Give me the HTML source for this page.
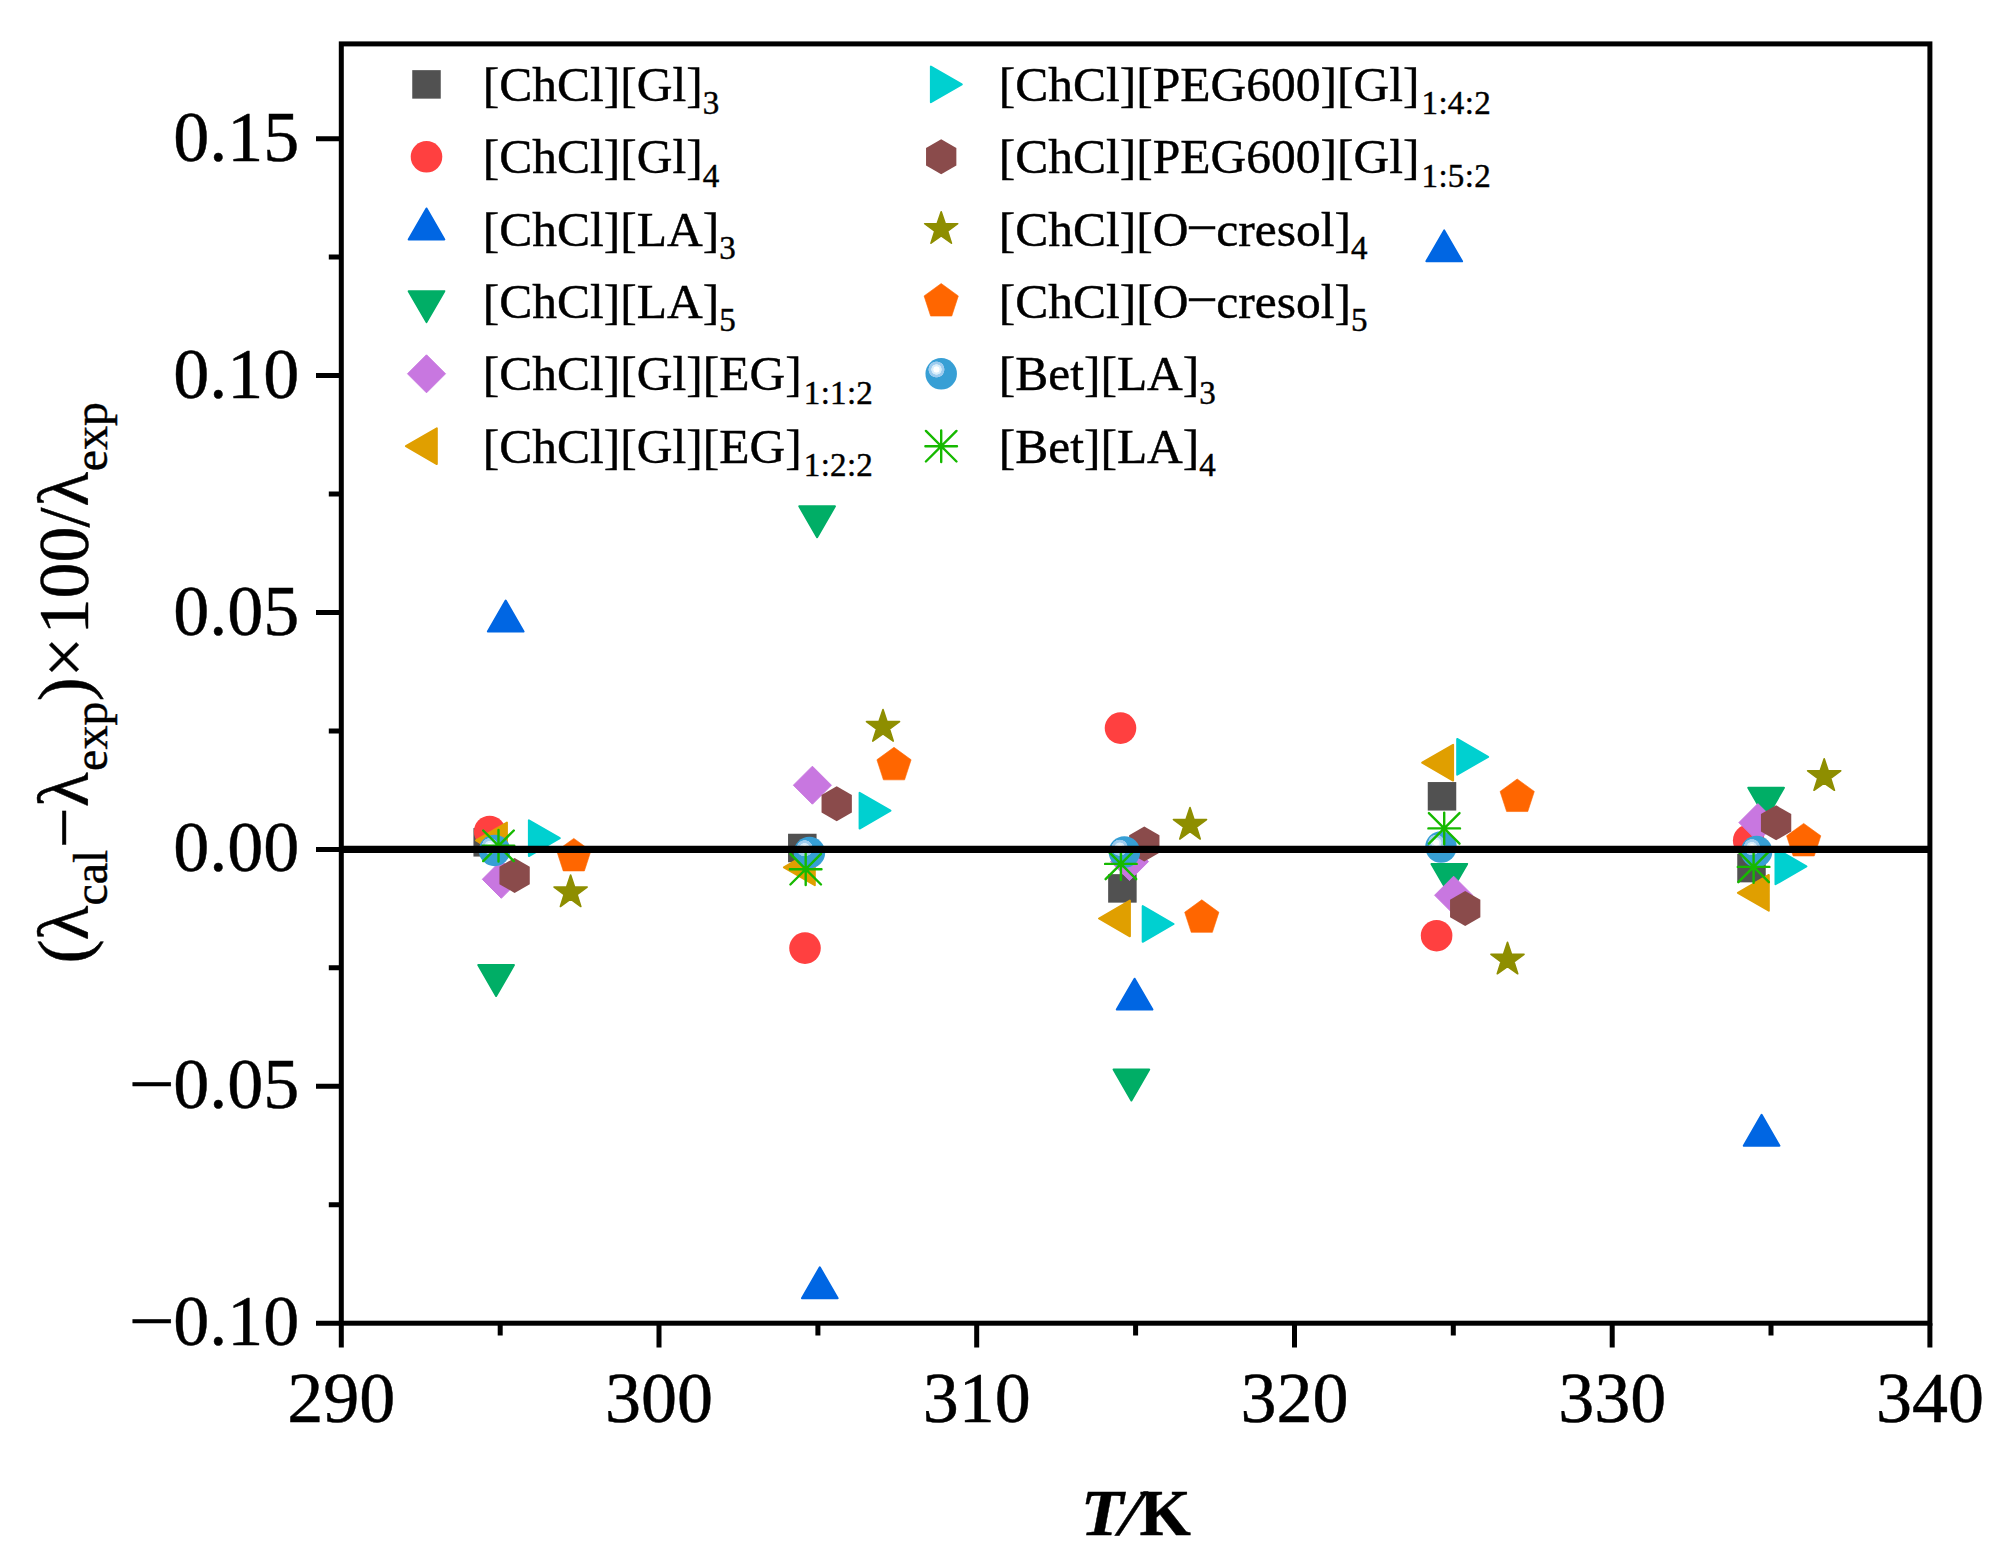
<!DOCTYPE html>
<html><head><meta charset="utf-8"><title>Deviation plot</title>
<style>html,body{margin:0;padding:0;background:#fff}svg{display:block}text{font-family:"Liberation Serif","Times New Roman",serif;fill:#000;stroke:#000;stroke-width:0.45px}</style></head><body>
<svg width="2010" height="1560" viewBox="0 0 2010 1560">
<defs>
<radialGradient id="sph" cx="0.35" cy="0.363" r="0.262" fx="0.35" fy="0.363">
<stop offset="0" stop-color="#ffffff"/><stop offset="0.34" stop-color="#ffffff"/>
<stop offset="0.40" stop-color="#DDF0FB"/><stop offset="0.60" stop-color="#D6ECFA"/>
<stop offset="0.66" stop-color="#A0CDEF"/><stop offset="0.95" stop-color="#9CCBEE"/>
<stop offset="1" stop-color="#379FD5"/>
</radialGradient>
<g id="sq"><rect x="-14.25" y="-14.25" width="28.5" height="28.5" fill="#515151"/></g>
<g id="ci"><circle r="15.8" fill="#FF4040"/></g>
<g id="ut"><polygon points="0.00,-20.61 17.85,10.31 -17.85,10.31" fill="#0066E3" stroke="#0066E3" stroke-width="2" stroke-linejoin="round"/></g>
<g id="dt"><polygon points="0.00,20.61 17.85,-10.31 -17.85,-10.31" fill="#00AE66" stroke="#00AE66" stroke-width="2" stroke-linejoin="round"/></g>
<g id="di"><polygon points="0.00,-19.00 19.00,0.00 0.00,19.00 -19.00,0.00" fill="#C877E0" stroke="#C877E0" stroke-width="1" stroke-linejoin="round"/></g>
<g id="lt"><polygon points="-20.61,0.00 10.31,-17.85 10.31,17.85" fill="#E09F00" stroke="#E09F00" stroke-width="2" stroke-linejoin="round"/></g>
<g id="rt"><polygon points="20.61,0.00 -10.31,-17.85 -10.31,17.85" fill="#00D0D0" stroke="#00D0D0" stroke-width="2" stroke-linejoin="round"/></g>
<g id="hx"><polygon points="0.00,-17.50 15.16,-8.75 15.16,8.75 0.00,17.50 -15.16,8.75 -15.16,-8.75" fill="#8A4B4B"/></g>
<g id="st"><polygon points="0.00,-17.40 3.99,-5.49 16.55,-5.38 6.45,2.10 10.23,14.08 0.00,6.79 -10.23,14.08 -6.45,2.10 -16.55,-5.38 -3.99,-5.49" fill="#8E8E00" stroke="#8E8E00" stroke-width="1.6" stroke-linejoin="round"/></g>
<g id="pe"><polygon points="0.00,-18.00 17.12,-5.56 10.58,14.56 -10.58,14.56 -17.12,-5.56" fill="#FF6600" stroke="#FF6600" stroke-width="0.6" stroke-linejoin="round"/></g>
<g id="sp"><circle r="15.75" fill="url(#sph)"/></g>
<g id="as" stroke="#16B900" stroke-width="2.4" stroke-linecap="round" fill="none"><path d="M-15.8,0H15.8M0,-15.8V15.8M-15.3,-15.3L15.3,15.3M-15.3,15.3L15.3,-15.3"/></g>
</defs>
<rect x="0" y="0" width="2010" height="1560" fill="#fff"/>
<g id="points">
<use href="#sq" x="487.7" y="842.3"/>
<use href="#sq" x="802.3" y="848.0"/>
<use href="#sq" x="1122.4" y="888.4"/>
<use href="#sq" x="1442" y="796.3"/>
<use href="#sq" x="1751.5" y="868.1"/>
<use href="#ci" x="489.7" y="831.5"/>
<use href="#ci" x="805" y="948.1"/>
<use href="#ci" x="1120.5" y="728.1"/>
<use href="#ci" x="1436.6" y="935.7"/>
<use href="#ci" x="1748.7" y="840.4"/>
<use href="#ut" x="505.7" y="621.2"/>
<use href="#ut" x="819.8" y="1287.9"/>
<use href="#ut" x="1134.6" y="999.3"/>
<use href="#ut" x="1444.2" y="251"/>
<use href="#ut" x="1761.6" y="1135.4"/>
<use href="#dt" x="496.1" y="975.4"/>
<use href="#dt" x="817.1" y="516.6"/>
<use href="#dt" x="1131.4" y="1079.9"/>
<use href="#dt" x="1449.3" y="874.2"/>
<use href="#dt" x="1766.1" y="798.1"/>
<use href="#di" x="501.3" y="879.3"/>
<use href="#di" x="812.4" y="785.2"/>
<use href="#di" x="1129.5" y="861.6"/>
<use href="#di" x="1453.6" y="895.2"/>
<use href="#di" x="1757.9" y="822.6"/>
<use href="#lt" x="496.6" y="840.4"/>
<use href="#lt" x="804.5" y="867.3"/>
<use href="#lt" x="1119.6" y="918.5"/>
<use href="#lt" x="1442.8" y="762.7"/>
<use href="#lt" x="1758.5" y="892.8"/>
<use href="#rt" x="539.2" y="838.2"/>
<use href="#rt" x="869.9" y="810.7"/>
<use href="#rt" x="1153" y="924"/>
<use href="#rt" x="1467.5" y="756.8"/>
<use href="#rt" x="1785.8" y="866.4"/>
<use href="#hx" x="514.6" y="875.4"/>
<use href="#hx" x="836.7" y="803.8"/>
<use href="#hx" x="1144.3" y="844.1"/>
<use href="#hx" x="1465.2" y="908.6"/>
<use href="#hx" x="1776.1" y="822.8"/>
<use href="#st" x="570.6" y="892.4"/>
<use href="#st" x="883" y="727"/>
<use href="#st" x="1190" y="824.9"/>
<use href="#st" x="1507.5" y="959.7"/>
<use href="#st" x="1824.2" y="776.2"/>
<use href="#pe" x="573.8" y="856.4"/>
<use href="#pe" x="894" y="765.3"/>
<use href="#pe" x="1201.8" y="917.8"/>
<use href="#pe" x="1517.2" y="797"/>
<use href="#pe" x="1803.7" y="841.4"/>
<use href="#sp" x="494.6" y="850.4"/>
<use href="#sp" x="809.4" y="852.6"/>
<use href="#sp" x="1124.4" y="852"/>
<use href="#sp" x="1441" y="847"/>
<use href="#sp" x="1756.6" y="851.5"/>
<use href="#as" x="498.5" y="845.8"/>
<use href="#as" x="805.7" y="869.2"/>
<use href="#as" x="1120.9" y="863.9"/>
<use href="#as" x="1444.2" y="828.4"/>
<use href="#as" x="1753.6" y="866.9"/>
</g>
<line x1="341.3" y1="849.3" x2="1929.9" y2="849.3" stroke="#000" stroke-width="7.2"/>
<rect x="341.3" y="43.9" width="1588.6000000000001" height="1279.3" fill="none" stroke="#000" stroke-width="5"/>
<path d="M316.0,138.7H341.3M316.0,375.6H341.3M316.0,612.5H341.3M316.0,849.4H341.3M316.0,1086.3H341.3M316.0,1323.2H341.3M328.8,257.1H341.3M328.8,494.0H341.3M328.8,730.9H341.3M328.8,967.8H341.3M328.8,1204.7H341.3M341.3,1323.2V1347.6M659.0,1323.2V1347.6M976.7,1323.2V1347.6M1294.5,1323.2V1347.6M1612.2,1323.2V1347.6M1929.9,1323.2V1347.6M500.2,1323.2V1335.6M817.9,1323.2V1335.6M1135.6,1323.2V1335.6M1453.3,1323.2V1335.6M1771.0,1323.2V1335.6" stroke="#000" stroke-width="5" fill="none"/>
<g font-size="72">
<text x="299.3" y="160.7" text-anchor="end">0.15</text>
<text x="299.3" y="397.6" text-anchor="end">0.10</text>
<text x="299.3" y="634.5" text-anchor="end">0.05</text>
<text x="299.3" y="871.4" text-anchor="end">0.00</text>
<text x="299.3" y="1108.3" text-anchor="end">0.05</text>
<text x="128.7" y="1108.3" textLength="46.05" lengthAdjust="spacingAndGlyphs">−</text>
<text x="299.3" y="1345.2" text-anchor="end">0.10</text>
<text x="128.7" y="1345.2" textLength="46.05" lengthAdjust="spacingAndGlyphs">−</text>
<text x="341.3" y="1421.5" text-anchor="middle">290</text>
<text x="659.0" y="1421.5" text-anchor="middle">300</text>
<text x="976.7" y="1421.5" text-anchor="middle">310</text>
<text x="1294.5" y="1421.5" text-anchor="middle">320</text>
<text x="1612.2" y="1421.5" text-anchor="middle">330</text>
<text x="1929.9" y="1421.5" text-anchor="middle">340</text>
</g>
<use href="#sq" x="426.5" y="84.4"/>
<use href="#ci" x="426.5" y="156.8"/>
<use href="#ut" x="426.5" y="229.1"/>
<use href="#dt" x="426.5" y="301.5"/>
<use href="#di" x="426.5" y="373.8"/>
<use href="#lt" x="426.5" y="446.2"/>
<use href="#rt" x="941.2" y="84.4"/>
<use href="#hx" x="941.2" y="156.8"/>
<use href="#st" x="941.2" y="229.1"/>
<use href="#pe" x="941.2" y="301.5"/>
<use href="#sp" x="941.2" y="373.8"/>
<use href="#as" x="941.2" y="446.2"/>
<text x="482.7" y="101.1" font-size="49.5">[ChCl][Gl]<tspan font-size="33" dy="13.2">3</tspan></text>
<text x="482.7" y="173.4" font-size="49.5">[ChCl][Gl]<tspan font-size="33" dy="13.2">4</tspan></text>
<text x="482.7" y="245.7" font-size="49.5">[ChCl][LA]<tspan font-size="33" dy="13.2">3</tspan></text>
<text x="482.7" y="318.0" font-size="49.5">[ChCl][LA]<tspan font-size="33" dy="13.2">5</tspan></text>
<text x="482.7" y="390.3" font-size="49.5">[ChCl][Gl][EG]<tspan font-size="33" dy="13.2" dx="2.2" letter-spacing="0.3">1:1:2</tspan></text>
<text x="482.7" y="462.6" font-size="49.5">[ChCl][Gl][EG]<tspan font-size="33" dy="13.2" dx="2.2" letter-spacing="0.3">1:2:2</tspan></text>
<text x="998.7" y="101.1" font-size="49.5">[ChCl][PEG600][Gl]<tspan font-size="33" dy="13.2" dx="2.2" letter-spacing="0.3">1:4:2</tspan></text>
<text x="998.7" y="173.4" font-size="49.5">[ChCl][PEG600][Gl]<tspan font-size="33" dy="13.2" dx="2.2" letter-spacing="0.3">1:5:2</tspan></text>
<text x="998.7" y="245.7" font-size="49.5">[ChCl][O<tspan dx="-1.8" dy="-1.6" textLength="31.5" lengthAdjust="spacingAndGlyphs">−</tspan><tspan dx="-1.8" dy="1.6">cresol]</tspan><tspan font-size="33" dy="13.2">4</tspan></text>
<text x="998.7" y="318.0" font-size="49.5">[ChCl][O<tspan dx="-1.8" dy="-1.6" textLength="31.5" lengthAdjust="spacingAndGlyphs">−</tspan><tspan dx="-1.8" dy="1.6">cresol]</tspan><tspan font-size="33" dy="13.2">5</tspan></text>
<text x="998.7" y="390.3" font-size="49.5">[Bet][LA]<tspan font-size="33" dy="13.2">3</tspan></text>
<text x="998.7" y="462.6" font-size="49.5">[Bet][LA]<tspan font-size="33" dy="13.2">4</tspan></text>
<g transform="translate(87.7,961.9) rotate(-90)"><text id="ytitle" font-size="72"><tspan x="-1.66" y="0" font-size="72">(</tspan><tspan x="21.45" y="0" font-size="72">λ</tspan><tspan x="56.4" y="19.3" font-size="48">cal</tspan><tspan x="113.8" y="0" font-size="72">−</tspan><tspan x="154.55" y="0" font-size="72">λ</tspan><tspan x="191.0" y="19.3" font-size="48">exp</tspan><tspan x="260.6" y="0" font-size="72">)</tspan><tspan x="284.5" y="0" font-size="72">×</tspan><tspan x="327.4" y="0" font-size="72">100</tspan><tspan x="434.35" y="0" font-size="72">/</tspan><tspan x="455.05" y="0" font-size="72">λ</tspan><tspan x="490.7" y="19.3" font-size="48">exp</tspan></text></g>
<text id="xtitle" y="1535.1" font-size="66" font-weight="bold"><tspan x="1080.8" font-style="italic" textLength="42.7" lengthAdjust="spacingAndGlyphs">T</tspan></text>
<text y="0" x="0" font-size="66" font-weight="bold" font-style="italic" transform="translate(1118.8,1535.1) skewX(-8)">/</text>
<text y="1535.1" x="1139.5" font-size="66" font-weight="bold">K</text>
</svg></body></html>
